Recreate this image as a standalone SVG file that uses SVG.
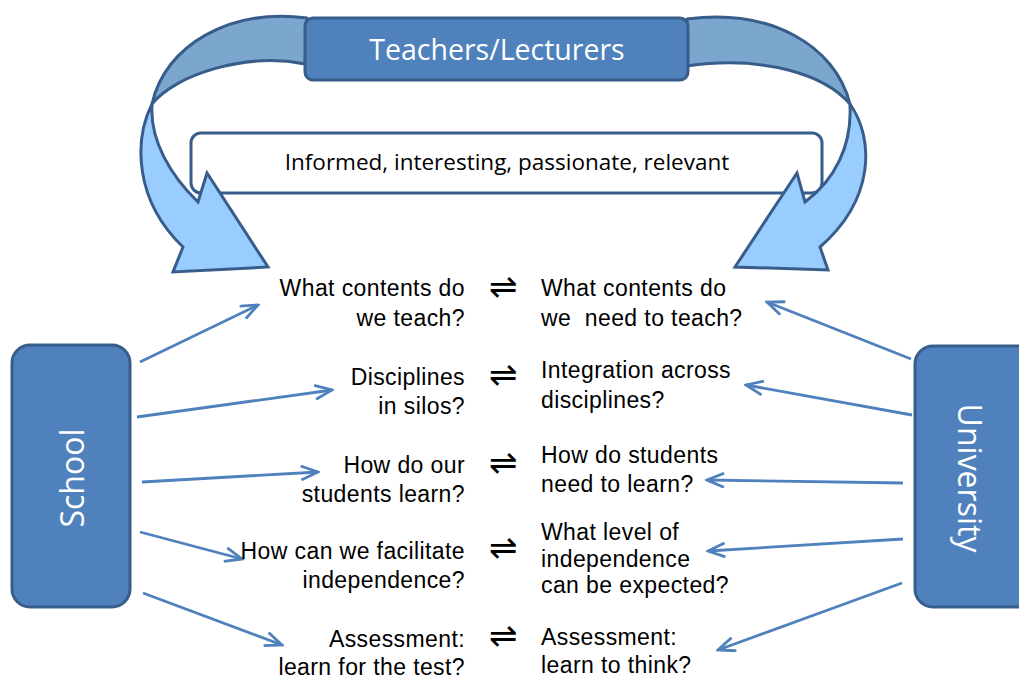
<svg xmlns="http://www.w3.org/2000/svg" width="1019" height="680" viewBox="0 0 1019 680">
<defs>
<style>
.box{fill:#4F81BD;stroke:#385D8A;stroke-width:3}
.wt{fill:#fff;font-family:"Open Sans","Liberation Sans",sans-serif}
.q{fill:#000;font-family:"Liberation Sans",Arial,sans-serif;font-size:23px;letter-spacing:0.4px}
.l{text-anchor:end}
.eq{fill:#000;font-family:"DejaVu Sans",sans-serif;font-size:34px;text-anchor:middle}
.band{fill:#7BA7CF;stroke:#385D8A;stroke-width:3;stroke-linejoin:round}
.front{fill:#99CCFF;stroke:#385D8A;stroke-width:3;stroke-linejoin:miter}
.c{stroke:#4F81BD;stroke-width:2.8;fill:none;marker-end:url(#ah)}
</style>
<marker id="ah" viewBox="0 0 20 16" refX="18" refY="8" markerWidth="20" markerHeight="16" markerUnits="userSpaceOnUse" orient="auto">
<path d="M1,1 L18,8 L1,15" fill="none" stroke="#4F81BD" stroke-width="2.8"/>
</marker>
</defs>
<rect width="1019" height="680" fill="#fff"/>

<g id="band-left">
<path class="band" d="M307,18 C230,8 165,45 152,104 C175,75 245,52 305,64 Z"/>
</g>
<g id="band-right">
<path class="band" d="M687,19 C770,8 835,45 850,104 C825,75 765,55 687,66 Z"/>
</g>

<g id="informed">
<rect x="191" y="133" width="631" height="60" rx="10" fill="#fff" stroke="#385D8A" stroke-width="3"/>
<text x="507" y="170" text-anchor="middle" style="fill:#000;font-family:'Open Sans','Liberation Sans',sans-serif;font-size:22.5px">Informed, interesting, passionate, relevant</text>
</g>

<g id="arrow-left">
<path class="front" d="M152,104 C134,140 134,200 183,247 L173,272 L268,267 L207,173 L198,202 C170,175 150,140 152,106 Z"/>
</g>
<g id="arrow-right">
<path class="front" d="M850,104 C875,140 874,200 820,247 L828,270 L735,267 L797,173 L805,202 C835,180 852,145 850,106 Z"/>
</g>

<g id="teachers">
<rect class="box" x="305" y="18" width="383" height="62" rx="8"/>
<text class="wt" x="497" y="60" text-anchor="middle" style="font-size:28.5px">Teachers/Lecturers</text>
</g>

<g id="school">
<rect class="box" x="12" y="345" width="118" height="262" rx="18"/>
<text class="wt" transform="translate(84,478) rotate(-90)" text-anchor="middle" style="font-size:32px">School</text>
</g>

<g id="university">
<rect class="box" x="915" y="346" width="124" height="261" rx="18"/>
<text class="wt" transform="translate(958,478) rotate(90)" text-anchor="middle" style="font-size:32px">University</text>
</g>

<g id="connectors">
<line class="c" x1="140" y1="362" x2="258" y2="305"/>
<line class="c" x1="137" y1="417" x2="332" y2="390"/>
<line class="c" x1="142" y1="482" x2="318" y2="472"/>
<line class="c" x1="140" y1="532" x2="242" y2="559"/>
<line class="c" x1="143" y1="593" x2="282" y2="645"/>
<line class="c" x1="911" y1="359" x2="767" y2="302"/>
<line class="c" x1="912" y1="415" x2="746" y2="385"/>
<line class="c" x1="903" y1="483" x2="707" y2="480"/>
<line class="c" x1="903" y1="539" x2="708" y2="551"/>
<line class="c" x1="902" y1="583" x2="718" y2="650"/>
</g>

<g id="q1">
<text class="q l" x="465" y="296">What contents do</text>
<text class="q l" x="465" y="326">we teach?</text>
<text class="eq" x="503" y="298">⇌</text>
<text class="q" x="541" y="296">What contents do</text>
<text class="q" x="541" y="326" xml:space="preserve">we  need to teach?</text>
</g>
<g id="q2">
<text class="q l" x="465" y="385">Disciplines</text>
<text class="q l" x="465" y="414">in silos?</text>
<text class="eq" x="503" y="386">⇌</text>
<text class="q" x="541" y="378">Integration across</text>
<text class="q" x="541" y="408">disciplines?</text>
</g>
<g id="q3">
<text class="q l" x="465" y="473">How do our</text>
<text class="q l" x="465" y="502">students learn?</text>
<text class="eq" x="503" y="474">⇌</text>
<text class="q" x="541" y="463">How do students</text>
<text class="q" x="541" y="492">need to learn?</text>
</g>
<g id="q4">
<text class="q l" x="465" y="559">How can we facilitate</text>
<text class="q l" x="465" y="588">independence?</text>
<text class="eq" x="503" y="559">⇌</text>
<text class="q" x="541" y="540">What level of</text>
<text class="q" x="541" y="566.5">independence</text>
<text class="q" x="541" y="593">can be expected?</text>
</g>
<g id="q5">
<text class="q l" x="465" y="647">Assessment:</text>
<text class="q l" x="465" y="675">learn for the test?</text>
<text class="eq" x="503" y="647">⇌</text>
<text class="q" x="541" y="645">Assessment:</text>
<text class="q" x="541" y="673">learn to think?</text>
</g>
</svg>
